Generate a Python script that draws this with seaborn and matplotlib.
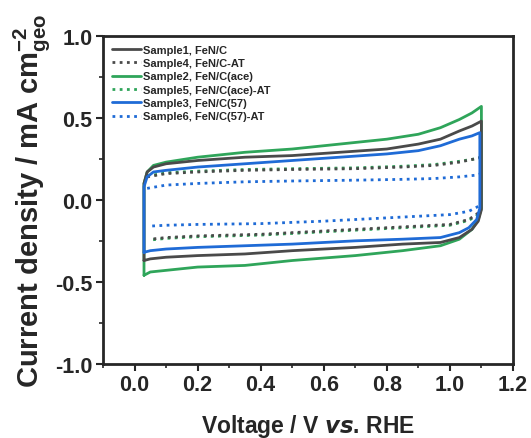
import numpy as np
import pandas as pd
import matplotlib
matplotlib.use("Agg")
import matplotlib.pyplot as plt
import seaborn as sns
from matplotlib.lines import Line2D

# =====================
# DATA
# =====================

# Sample2, FeN/C(ace) - green solid, closed loop
s2_v = [0.03, 0.03, 0.04, 0.06, 0.10, 0.20, 0.35, 0.50, 0.65, 0.80, 0.90, 0.97, 1.03, 1.07, 1.10,
        1.10, 1.10, 1.09, 1.07, 1.03, 0.97, 0.85, 0.70, 0.50, 0.35, 0.20, 0.10, 0.05, 0.03]
s2_j = [-0.46, 0.10, 0.17, 0.21, 0.23, 0.26, 0.29, 0.31, 0.34, 0.37, 0.40, 0.44, 0.49, 0.53, 0.57,
        0.00, -0.05, -0.12, -0.18, -0.24, -0.28, -0.31, -0.34, -0.37, -0.40, -0.41, -0.43, -0.44, -0.46]

# Sample1, FeN/C - grey solid
s1_v = [0.03, 0.03, 0.04, 0.06, 0.10, 0.20, 0.35, 0.50, 0.65, 0.80, 0.90, 0.97, 1.03, 1.07, 1.10,
        1.10, 1.10, 1.09, 1.07, 1.03, 0.97, 0.85, 0.70, 0.50, 0.35, 0.20, 0.10, 0.05, 0.03]
s1_j = [-0.37, 0.10, 0.17, 0.20, 0.22, 0.24, 0.26, 0.27, 0.29, 0.31, 0.34, 0.37, 0.42, 0.45, 0.48,
        0.00, -0.06, -0.13, -0.18, -0.23, -0.26, -0.27, -0.29, -0.31, -0.33, -0.34, -0.35, -0.36, -0.37]

# Sample3, FeN/C(57) - blue solid
s3_v = [0.03, 0.03, 0.04, 0.06, 0.10, 0.20, 0.35, 0.50, 0.65, 0.80, 0.90, 0.97, 1.03, 1.07, 1.095,
        1.095, 1.095, 1.085, 1.06, 1.03, 0.97, 0.85, 0.70, 0.50, 0.35, 0.20, 0.10, 0.05, 0.03]
s3_j = [-0.32, 0.08, 0.14, 0.17, 0.18, 0.20, 0.22, 0.24, 0.26, 0.28, 0.30, 0.33, 0.37, 0.39, 0.41,
        0.00, -0.05, -0.12, -0.17, -0.20, -0.23, -0.24, -0.25, -0.27, -0.28, -0.29, -0.30, -0.31, -0.32]

# dotted samples: anodic (upper) and cathodic (lower) branches
dot_up_v = [0.04, 0.10, 0.20, 0.35, 0.50, 0.70, 0.85, 0.95, 1.03, 1.08, 1.10]
dot_lo_v = [1.09, 1.06, 1.00, 0.90, 0.80, 0.60, 0.40, 0.20, 0.10, 0.05]

s4_up = [0.14, 0.16, 0.17, 0.18, 0.185, 0.19, 0.20, 0.21, 0.23, 0.25, 0.26]
s4_lo = [-0.08, -0.12, -0.15, -0.16, -0.17, -0.19, -0.21, -0.22, -0.23, -0.24]

s5_up = [0.145, 0.165, 0.175, 0.185, 0.19, 0.195, 0.205, 0.215, 0.235, 0.25, 0.26]
s5_lo = [-0.09, -0.125, -0.155, -0.165, -0.175, -0.195, -0.215, -0.225, -0.235, -0.245]

s6_up = [0.07, 0.09, 0.10, 0.11, 0.115, 0.12, 0.125, 0.13, 0.14, 0.15, 0.16]
s6_lo = [-0.04, -0.07, -0.09, -0.10, -0.11, -0.13, -0.145, -0.15, -0.155, -0.16]

labels = ["Sample1, FeN/C", "Sample4, FeN/C-AT", "Sample2, FeN/C(ace)",
          "Sample5, FeN/C(ace)-AT", "Sample3, FeN/C(57)", "Sample6, FeN/C(57)-AT"]

GREY = "#4a4a4a"
GREEN = "#2fa55a"
BLUE = "#1f6bd6"
DOT = (0, (1, 1.6))

# =====================
# STYLE
# =====================

sns.set_style("ticks")
plt.rcParams["font.family"] = ["Liberation Sans", "DejaVu Sans"]
plt.rcParams["font.weight"] = "bold"
plt.rcParams["mathtext.default"] = "regular"
plt.rcParams["axes.unicode_minus"] = False

fig = plt.figure(figsize=(5.31, 4.39), dpi=100)
ax = fig.add_axes([0.194, 0.169, 0.772, 0.747])

# =====================
# PLOT
# =====================

def loop(v, j, color):
    df = pd.DataFrame({"V": v, "J": j})
    sns.lineplot(data=df, x="V", y="J", sort=False, estimator=None,
                 color=color, lw=2.0, ax=ax)

def branches(up, lo, color):
    df = pd.DataFrame({
        "V": dot_up_v + dot_lo_v,
        "J": up + lo,
        "branch": ["up"] * len(up) + ["lo"] * len(lo),
    })
    sns.lineplot(data=df, x="V", y="J", units="branch", sort=False, estimator=None,
                 color=color, lw=2.0, linestyle=DOT, ax=ax)

branches(s5_up, s5_lo, GREEN)
branches(s4_up, s4_lo, GREY)
branches(s6_up, s6_lo, BLUE)
loop(s2_v, s2_j, GREEN)
loop(s1_v, s1_j, GREY)
loop(s3_v, s3_j, BLUE)

# =====================
# AXES
# =====================

ax.set_xlim(-0.1, 1.2)
ax.set_ylim(-1.0, 1.0)
ax.set_xticks(np.arange(0, 1.21, 0.2))
ax.set_yticks(np.arange(-1.0, 1.01, 0.5))
ax.set_xticks(np.arange(-0.1, 1.21, 0.1), minor=True)
ax.set_yticks(np.arange(-1.0, 1.01, 0.25), minor=True)
ax.tick_params(which="major", length=5, width=1.5, labelsize=15.5, direction="out", pad=2.5)
ax.tick_params(which="minor", length=3, width=1.2, direction="out")
for lab in ax.get_xticklabels() + ax.get_yticklabels():
    lab.set_fontweight("bold")
for sp in ax.spines.values():
    sp.set_linewidth(2)
    sp.set_visible(True)

ax.set_xlabel("Voltage / V $\\mathit{vs}$. RHE", fontsize=16.5, fontweight="bold", labelpad=12)
ax.set_ylabel("Current density / mA cm$_{geo}^{-2}$", fontsize=21, fontweight="bold", labelpad=2)

handles = [
    Line2D([], [], color=GREY, lw=2.0),
    Line2D([], [], color=GREY, lw=2.0, linestyle=DOT),
    Line2D([], [], color=GREEN, lw=2.0),
    Line2D([], [], color=GREEN, lw=2.0, linestyle=DOT),
    Line2D([], [], color=BLUE, lw=2.0),
    Line2D([], [], color=BLUE, lw=2.0, linestyle=DOT),
]
ax.legend(handles, labels, loc="upper left", frameon=False,
          prop={"size": 8, "weight": "bold"}, handlelength=2.6,
          handletextpad=0.2, labelspacing=0.3, borderaxespad=0.4,
          bbox_to_anchor=(0.0, 1.0))

plt.savefig("out.png", dpi=100)
